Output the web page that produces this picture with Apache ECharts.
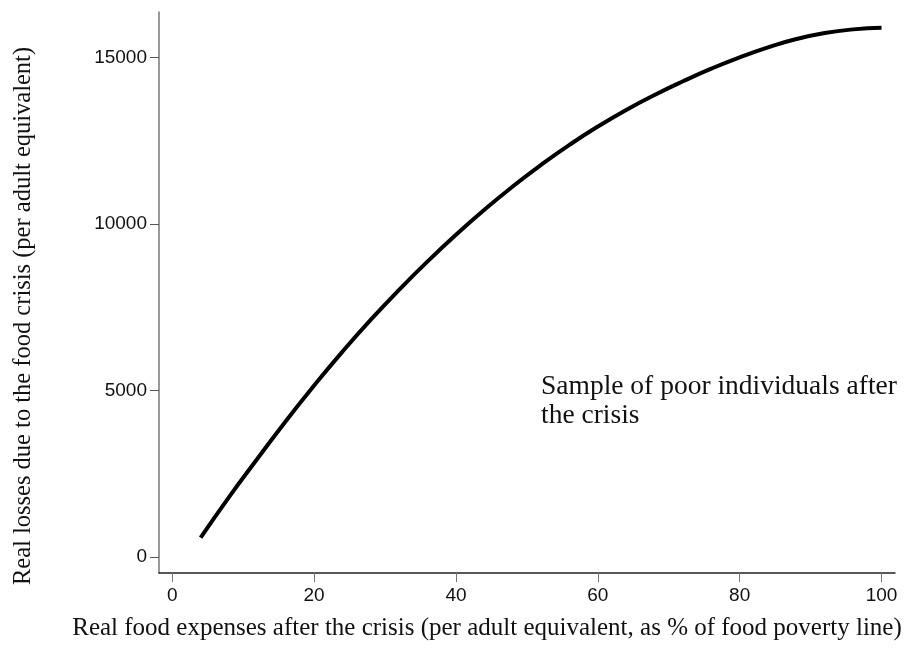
<!DOCTYPE html>
<html>
<head>
<meta charset="utf-8">
<script src="https://cdn.jsdelivr.net/npm/echarts@6/dist/echarts.min.js"></script>
<style>
  html, body { margin: 0; padding: 0; background: #fff; }
  #chart { width: 905px; height: 654px; }
</style>
</head>
<body>
<div id="chart"></div>
<script>
// food expenses after the crisis (% of food poverty line)
const foodExpenses = [4, 8, 12, 16, 20, 24, 28, 32, 36, 40, 44, 48, 52, 56, 60, 64, 68, 72, 76, 80, 84, 88, 92, 96, 100];
// real losses due to the food crisis (per adult equivalent)
const realLosses = [580, 1800, 2950, 4080, 5150, 6170, 7130, 8030, 8880, 9680, 10430, 11130, 11780, 12380, 12930, 13430, 13880, 14290, 14670, 15010, 15310, 15560, 15740, 15850, 15900];
const xTicks = [0, 20, 40, 60, 80, 100];
const yTicks = [0, 5000, 10000, 15000];

const xTitle = 'Real food expenses after the crisis (per adult equivalent, as % of food poverty line)';
const yTitle = 'Real losses due to the food crisis (per adult equivalent)';
const noteLines = ['Sample of poor individuals after', 'the crisis'];

let chart;

window.onload = init;

function init() {
    chart = echarts.init(document.getElementById('chart'));

    let options = {
        backgroundColor: '#fff',
        animation: false,
        grid: { left: 159, right: 10, top: 12, bottom: 81 },
        xAxis: {
            type: 'value',
            min: -1.87,
            max: 101.9,
            axisLine: { onZero: false, lineStyle: { color: '#222', width: 1.5 } },
            axisTick: { customValues: xTicks, length: 9, lineStyle: { color: '#777' } },
            axisLabel: {
                customValues: xTicks,
                margin: 13,
                fontFamily: 'Liberation Sans',
                fontSize: 19,
                color: '#111'
            },
            splitLine: { show: false }
        },
        yAxis: {
            type: 'value',
            min: -481,
            max: 16372,
            axisLine: { show: true, onZero: false, lineStyle: { color: '#777', width: 1.5 } },
            axisTick: { show: true, customValues: yTicks, length: 9, lineStyle: { color: '#555' } },
            axisLabel: {
                customValues: yTicks,
                margin: 12,
                fontFamily: 'Liberation Sans',
                fontSize: 19,
                color: '#111',
                formatter: value => String(value)  // pas de séparateur de milliers
            },
            splitLine: { show: false }
        },
        graphic: [
            {
                type: 'text',
                x: 24,
                y: 316,
                rotation: Math.PI / 2,
                style: {
                    text: yTitle,
                    font: '24.5px "Liberation Serif"',
                    fill: '#111',
                    textAlign: 'center',
                    textVerticalAlign: 'middle'
                }
            },
            {
                type: 'text',
                x: 487,
                y: 628,
                style: {
                    text: xTitle,
                    font: '25px "Liberation Serif"',
                    fill: '#111',
                    textAlign: 'center',
                    textVerticalAlign: 'middle'
                }
            },
            {
                type: 'text',
                x: 541,
                y: 372,
                style: {
                    text: noteLines.join('\n'),
                    font: '27.5px "Liberation Serif"',
                    lineHeight: 29,
                    fill: '#111',
                    textAlign: 'left',
                    textVerticalAlign: 'top'
                }
            }
        ],
        series: [
            {
                type: 'line',
                data: foodExpenses.map((x, i) => [x, realLosses[i]]),
                smooth: true,
                showSymbol: false,
                lineStyle: { color: '#000', width: 4 }
            }
        ]
    };

    chart.setOption(options);
}
</script>
</body>
</html>
